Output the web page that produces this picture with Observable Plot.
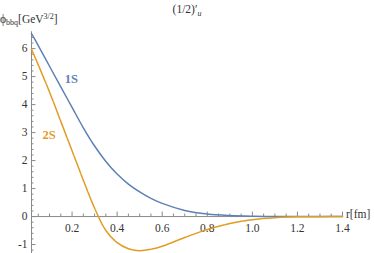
<!DOCTYPE html>
<html>
<head>
<meta charset="utf-8">
<script src="https://cdn.jsdelivr.net/npm/d3@7"></script>
<script src="https://cdn.jsdelivr.net/npm/@observablehq/plot@0.6"></script>
<style>
  html, body { margin: 0; padding: 0; background: #fff; }
  #chart { width: 374px; height: 253px; overflow: hidden; }
  #chart svg, #chart svg text, #chart svg tspan { font-family: "Liberation Serif", "Times New Roman", Times, "DejaVu Serif", serif !important; }
</style>
</head>
<body>
<div id="chart"></div>
<script>
// radial coordinate r [fm]
const r = [0.02,0.05,0.1,0.15,0.2,0.25,0.3,0.35,0.4,0.45,0.5,0.55,0.6,0.7,0.8,0.9,1.0,1.1,1.2,1.3,1.4];
// 1S wave function
const phi1S = [6.54,6.11,5.37,4.63,3.9,3.17,2.52,1.97,1.52,1.16,0.88,0.65,0.47,0.22,0.09,0.035,0.012,0.004,0.001,0,0];
// 2S wave function
const phi2S = [5.98,5.42,4.45,3.4,2.35,1.3,0.3,-0.5,-0.93,-1.15,-1.22,-1.17,-1.06,-0.75,-0.46,-0.25,-0.11,-0.04,-0.01,-0.003,0];
const seriesNames = ["1S", "2S"];
const seriesColors = ["#5E81B5", "#E19C24"];
// label anchor points (data coords)
const labelR = [0.197, 0.098];
const labelPhi = [4.93, 2.93];
const xMajor = [0.2,0.4,0.6,0.8,1.0,1.2,1.4];
const xMinor = [0.05,0.1,0.15,0.25,0.3,0.35,0.45,0.5,0.55,0.65,0.7,0.75,0.85,0.9,0.95,1.05,1.1,1.15,1.25,1.3,1.35];
const yMajor = [-1,0,1,2,3,4,5,6];
const yMinor = [-1.2,-0.8,-0.6,-0.4,-0.2,0.2,0.4,0.6,0.8,1.2,1.4,1.6,1.8,2.2,2.4,2.6,2.8,3.2,3.4,3.6,3.8,4.2,4.4,4.6,4.8,5.2,5.4,5.6,5.8,6.2,6.4];

const W = 374, H = 253;
const mL = 31, mR = 32, mT = 33, mB = 0;
const xDom = [0.02, 1.4], yDom = [-1.32, 6.54];
const pxX = (W - mL - mR) / (xDom[1] - xDom[0]);
const pxY = (H - mT - mB) / (yDom[1] - yDom[0]);
const x0 = xDom[0];

const d1 = r.map((v, i) => ({r: v, phi: phi1S[i]}));
const d2 = r.map((v, i) => ({r: v, phi: phi2S[i]}));
const labels = seriesNames.map((s, i) => ({s, r: labelR[i], phi: labelPhi[i], c: seriesColors[i]}));

const axisColor = "#8a8a8a";
const font = '"Liberation Serif", "Times New Roman", Times, "DejaVu Serif", serif';

const plot = Plot.plot({
  width: W, height: H,
  marginLeft: mL, marginRight: mR, marginTop: mT, marginBottom: mB,
  x: {domain: xDom},
  y: {domain: yDom},
  axis: null,
  style: {"font-family": font, "background": "#fff", "overflow": "visible"},
  marks: [
    // y axis line
    Plot.ruleX([x0], {y1: yDom[0], y2: 6.6, stroke: axisColor, strokeWidth: 1}),
    // x axis line at 0
    Plot.ruleY([0], {x1: x0, x2: xDom[1], stroke: axisColor, strokeWidth: 1}),
    // x ticks (pointing up)
    Plot.ruleX(xMajor, {x: d => d, y1: 0, y2: 4.5 / pxY, stroke: axisColor}),
    Plot.ruleX(xMinor, {x: d => d, y1: 0, y2: 2.5 / pxY, stroke: axisColor}),
    // y ticks (pointing right)
    Plot.ruleY(yMajor, {y: d => d, x1: x0, x2: x0 + 4.5 / pxX, stroke: axisColor}),
    Plot.ruleY(yMinor, {y: d => d, x1: x0, x2: x0 + 2.5 / pxX, stroke: axisColor}),
    // tick labels
    Plot.text(xMajor, {x: d => d, y: 0, dy: 12, text: d => d.toFixed(1), fontSize: 11.5, fill: "#333", fontFamily: font}),
    Plot.text(yMajor, {x: x0, y: d => d, dx: -4, textAnchor: "end", text: d => String(d), fontSize: 11.5, fill: "#333", fontFamily: font}),
    // curves
    Plot.line(d1, {x: "r", y: "phi", stroke: seriesColors[0], strokeWidth: 1.5, curve: "catmull-rom"}),
    Plot.line(d2, {x: "r", y: "phi", stroke: seriesColors[1], strokeWidth: 1.5, curve: "catmull-rom", strokeDasharray: "18 1.2"}),
    // series labels
    Plot.text(labels, {x: "r", y: "phi", text: "s", fill: "c", fontSize: 12.5, fontWeight: "bold", fontFamily: font})
  ]
});

document.getElementById("chart").appendChild(plot);

const svg = d3.select(plot);
// x-axis label
svg.append("text").attr("x", 346).attr("y", 218).attr("text-anchor", "start")
  .attr("font-family", font).attr("font-size", 11.5).attr("fill", "#333").text("r[fm]");
// title
const t = svg.append("text").attr("x", 187).attr("y", 13).attr("text-anchor", "middle")
  .attr("font-family", font).attr("font-size", 11.5).attr("fill", "#333");
t.append("tspan").text("(1/2)′");
t.append("tspan").attr("font-style", "italic").attr("font-size", 8).attr("dy", 3).text("u");
// y-axis label
const yl = svg.append("text").attr("x", 0).attr("y", 23).attr("text-anchor", "start")
  .attr("font-family", font).attr("font-size", 11.5).attr("fill", "#333");
yl.append("tspan").text("ϕ");
yl.append("tspan").attr("font-size", 8).attr("dy", 2).text("bbq");
yl.append("tspan").attr("dy", -2).text("[GeV");
yl.append("tspan").attr("font-size", 8).attr("dy", -4).text("3/2");
yl.append("tspan").attr("dy", 4).text("]");
</script>
</body>
</html>
